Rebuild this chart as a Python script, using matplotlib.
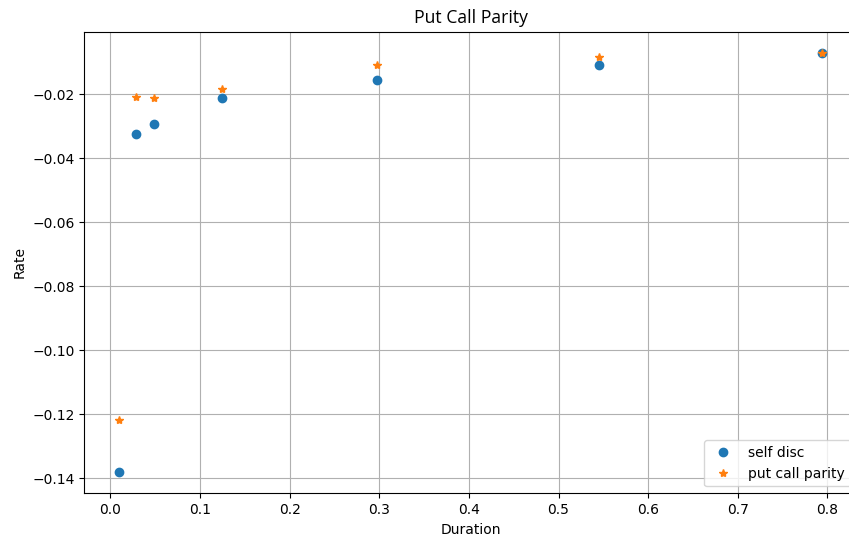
import numpy as np
import matplotlib
matplotlib.use('Agg')
import matplotlib.pyplot as plt

# durations (years) and rates
duration = [0.010, 0.029, 0.048, 0.1247, 0.2975, 0.5456, 0.7945]
self_disc = [-0.1381, -0.0325, -0.0294, -0.0213, -0.0156, -0.0109, -0.0070]
put_call = [-0.1219, -0.0209, -0.0213, -0.0183, -0.0108, -0.0084, -0.0070]

fig = plt.figure(figsize=(8.49, 5.35), dpi=100)
# axes runs a bit past the right edge, like the cropped original
ax = fig.add_axes([84.3/849, (535-493.3)/535, 773.3/849, 461.6/535])

ax.plot(duration, self_disc, 'o', label="self disc")
ax.plot(duration, put_call, '*', label="put call parity")

ax.set_title("Put Call Parity", fontfamily=['Open Sans', 'DejaVu Sans'], fontsize=12.7)
ax.set_xlabel("Duration")
ax.set_ylabel("Rate")
ax.legend(loc='lower right')
ax.grid()

fig.savefig("out.png", dpi=100)
